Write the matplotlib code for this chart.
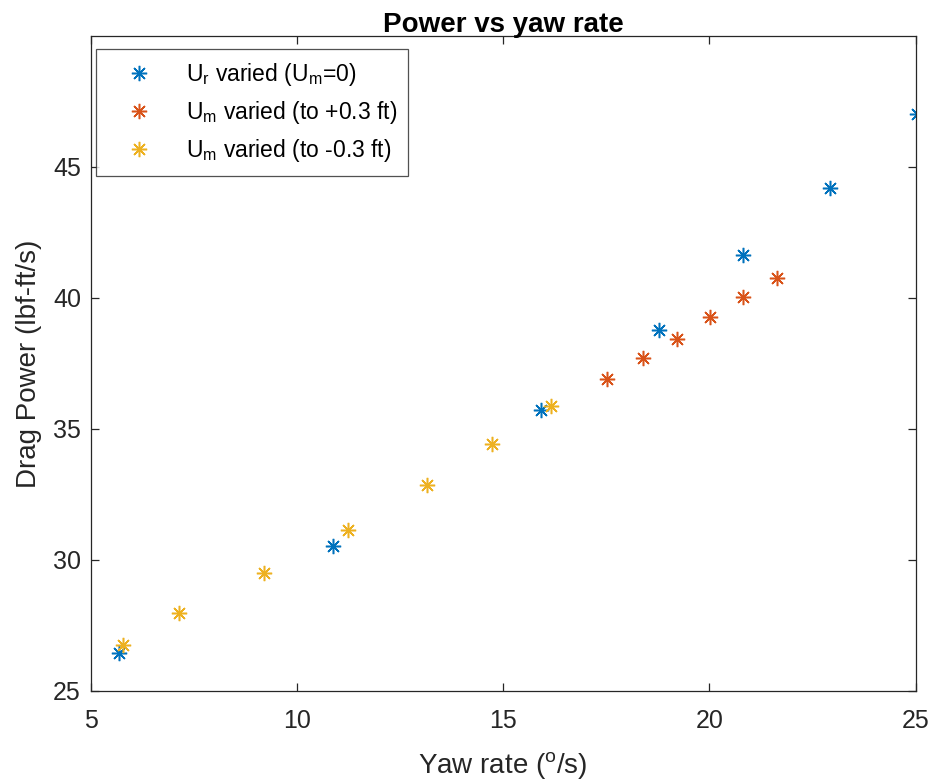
import matplotlib
matplotlib.use('Agg')
import matplotlib.pyplot as plt

# data
ur_x = [5.69, 10.88, 15.93, 18.78, 20.82, 22.92, 25.04]
ur_y = [26.44, 30.55, 35.72, 38.76, 41.63, 44.18, 47.01]

um_pos_x = [17.51, 18.40, 19.21, 20.01, 20.82, 21.65]
um_pos_y = [36.89, 37.70, 38.44, 39.29, 40.03, 40.75]

um_neg_x = [5.79, 7.14, 9.20, 11.23, 13.16, 14.72, 16.15]
um_neg_y = [26.75, 27.96, 29.49, 31.15, 32.88, 34.41, 35.87]

labels = [r'U$_\mathrm{r}$ varied (U$_\mathrm{m}$=0)',
          r'U$_\mathrm{m}$ varied (to +0.3 ft)',
          r'U$_\mathrm{m}$ varied (to -0.3 ft)']
colors = ['#0072BD', '#D95319', '#EDB120']  # matlab default order
xticks = [5, 10, 15, 20, 25]
yticks = [25, 30, 35, 40, 45]

plt.rcParams['font.family'] = ['Liberation Sans', 'DejaVu Sans']
plt.rcParams['mathtext.fontset'] = 'custom'
plt.rcParams['mathtext.rm'] = 'Liberation Sans'
plt.rcParams['mathtext.it'] = 'Liberation Sans:italic'

fig = plt.figure(figsize=(9.3, 7.82), dpi=100)
ax = fig.add_axes([0.0975, 0.1164, 0.887, 0.8376])

asterisk = (8, 2, 0)
series = [(ur_x, ur_y), (um_pos_x, um_pos_y), (um_neg_x, um_neg_y)]
for (xs, ys), c, lab in zip(series, colors, labels):
    ax.plot(xs, ys, linestyle='none', marker=asterisk, markersize=11,
            markeredgewidth=1.1, color=c, label=lab)

ax.set_xlim(5, 25)
ax.set_ylim(25, 50)
ax.set_xticks(xticks)
ax.set_yticks(yticks)

edge = '#262626'
for s in ax.spines.values():
    s.set_color(edge)
    s.set_linewidth(0.9)
ax.tick_params(direction='in', top=True, right=True, length=6, width=0.9,
               colors=edge, labelsize=18, pad=7)
ax.tick_params(axis='x', pad=13)

ax.set_xlabel(r'Yaw rate ($^\mathrm{o}$/s)', fontsize=20, color=edge, labelpad=12)
ax.set_ylabel('Drag Power (lbf-ft/s)', fontsize=20, color=edge, labelpad=8)
ax.set_title('Power vs yaw rate', fontsize=20, fontweight='bold', pad=3)

leg = ax.legend(loc='upper left', bbox_to_anchor=(0.007, 0.98), borderaxespad=0,
                fontsize=16.5, frameon=True, fancybox=False, edgecolor=edge,
                handletextpad=0.65, labelspacing=0.5, borderpad=0.5,
                handlelength=2.75)
leg.get_frame().set_linewidth(0.9)

fig.savefig('out.png', dpi=100)
